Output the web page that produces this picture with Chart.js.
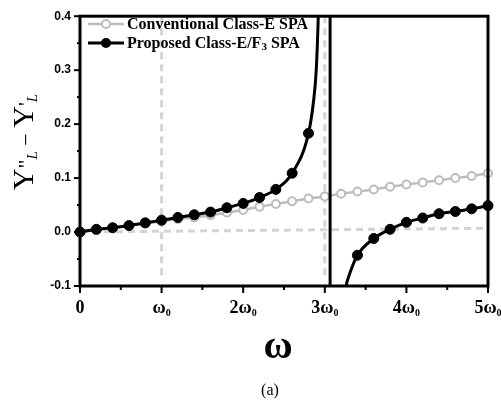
<!DOCTYPE html>
<html>
<head>
<meta charset="utf-8">
<script src="https://cdn.jsdelivr.net/npm/chart.js@4.4.1/dist/chart.umd.min.js"></script>
<style>
  html, body { margin: 0; padding: 0; background: #fff; }
  #wrap { position: absolute; left: 0; top: 0; width: 501px; height: 402px; }
</style>
</head>
<body>
<div id="wrap"><canvas id="chart" width="501" height="402"></canvas></div>
<script>
// Y''_L - Y'_L against frequency, in units of omega_0

// conventional class-E, one marker every 0.2 omega_0
const conventionalOmega = [0, 0.2, 0.4, 0.6, 0.8, 1.0, 1.2, 1.4, 1.6, 1.8, 2.0, 2.2, 2.4,
  2.6, 2.8, 3.0, 3.2, 3.4, 3.6, 3.8, 4.0, 4.2, 4.4, 4.6, 4.8, 5.0];
const conventionalValue = [0, 0.004, 0.008, 0.012, 0.016, 0.020, 0.024, 0.027, 0.031, 0.036,
  0.041, 0.047, 0.052, 0.057, 0.062, 0.066, 0.071, 0.075, 0.079, 0.084, 0.088, 0.092, 0.096,
  0.100, 0.104, 0.109];

// proposed class-E/F3, branch below the resonance
const proposedLowOmega = [0, 0.2, 0.4, 0.6, 0.8, 1.0, 1.2, 1.4, 1.6, 1.8, 2.0, 2.2, 2.4, 2.6, 2.8];
const proposedLowValue = [0, 0.005, 0.008, 0.012, 0.017, 0.022, 0.027, 0.032, 0.037, 0.045,
  0.053, 0.064, 0.079, 0.109, 0.183];
// unmarked curve points where it runs off the top
const proposedRiseOmega = [2.86, 2.895, 2.92, 2.935];
const proposedRiseValue = [0.24, 0.30, 0.40, 0.50];

// jump across the pole
const poleOmega = [3.065, 3.065];
const poleValue = [0.5, -0.2];

// branch above the resonance
const proposedFallOmega = [3.16, 3.21, 3.26, 3.31];
const proposedFallValue = [-0.24, -0.15, -0.10, -0.075];
const proposedHighOmega = [3.4, 3.6, 3.8, 4.0, 4.2, 4.4, 4.6, 4.8, 5.0];
const proposedHighValue = [-0.043, -0.012, 0.005, 0.018, 0.026, 0.034, 0.038, 0.043, 0.049];

// dashed guides
const guideW0 = [[1, 0.4], [1, -0.085]];
const guide3W0 = [[3, 0.4], [3, -0.085]];
const guideZero = [[0, 0], [5, 0.007]];

// axes
const yTicks = [-0.1, 0, 0.1, 0.2, 0.3, 0.4];
const yMinorTicks = [-0.05, 0.05, 0.15, 0.25, 0.35];
const xTicks = [0, 1, 2, 3, 4, 5];
const xMinorTicks = [0.5, 1.5, 2.5, 3.5, 4.5];
const xTickLabels = ['0', 'ω', '2ω', '3ω', '4ω', '5ω'];

const SERIF = '"Liberation Serif", "Times New Roman", serif';
const SANS = '"Liberation Sans", Arial, sans-serif';
const GREY = '#bdbdbd';
const GUIDE = '#d4d4d4';

const pts = (xs, ys, marked) => xs.map((v, i) => ({ x: v, y: ys[i], m: marked }));

const proposedLow = pts(proposedLowOmega, proposedLowValue, true)
  .concat(pts(proposedRiseOmega, proposedRiseValue, false));
const proposedHigh = pts(proposedFallOmega, proposedFallValue, false)
  .concat(pts(proposedHighOmega, proposedHighValue, true));

const markerRadius = r => ctx => (ctx.raw && ctx.raw.m ? r : 0);
const sideClip = { left: 7, right: 7, top: 0, bottom: 0 };

function blackBranch(data) {
  return {
    data,
    borderColor: '#000',
    borderWidth: 3,
    pointBackgroundColor: '#000',
    pointBorderColor: '#000',
    pointRadius: markerRadius(5),
    pointBorderWidth: 1,
    cubicInterpolationMode: 'monotone',
    clip: sideClip,
    order: 0
  };
}

function guide(data) {
  return {
    data: data.map(p => ({ x: p[0], y: p[1] })),
    borderColor: GUIDE,
    borderWidth: 3,
    borderDash: [7, 5],
    pointRadius: 0,
    clip: 0,
    order: 5
  };
}

// text made of pieces, some of them lowered as subscripts
function drawPieces(ctx, pieces, x, y) {
  let cx = x;
  pieces.forEach(p => {
    ctx.font = p.font;
    ctx.fillText(p.t, cx, y + (p.dy || 0));
    cx += ctx.measureText(p.t).width;
  });
  return cx - x;
}

function piecesWidth(ctx, pieces) {
  return pieces.reduce((w, p) => { ctx.font = p.font; return w + ctx.measureText(p.t).width; }, 0);
}

const decor = {
  id: 'decor',
  afterDatasetsDraw(chart) {
    const { ctx, chartArea: a, scales: { x, y } } = chart;
    ctx.save();
    ctx.strokeStyle = '#000';
    ctx.fillStyle = '#000';

    const seg = (x1, y1, x2, y2) => { ctx.beginPath(); ctx.moveTo(x1, y1); ctx.lineTo(x2, y2); ctx.stroke(); };

    // tick marks, outward
    ctx.lineWidth = 2;
    xTicks.forEach(v => { const p = x.getPixelForValue(v); seg(p, a.bottom, p, a.bottom + 7); });
    xMinorTicks.forEach(v => { const p = x.getPixelForValue(v); seg(p, a.bottom, p, a.bottom + 4); });
    yTicks.forEach(v => { const p = y.getPixelForValue(v); seg(a.left, p, a.left - 6, p); });
    yMinorTicks.forEach(v => { const p = y.getPixelForValue(v); seg(a.left, p, a.left - 3, p); });

    // frame
    ctx.lineWidth = 3;
    ctx.strokeRect(a.left, a.top, a.right - a.left, a.bottom - a.top);

    // x tick labels with subscript 0
    ctx.textBaseline = 'alphabetic';
    ctx.textAlign = 'left';
    xTicks.forEach((v, i) => {
      const pieces = [{ t: xTickLabels[i], font: 'bold 18px ' + SERIF }];
      if (i > 0) pieces.push({ t: '0', font: 'bold 10px ' + SERIF, dy: 3 });
      const w = piecesWidth(ctx, pieces);
      drawPieces(ctx, pieces, x.getPixelForValue(v) - w / 2, a.bottom + 27);
    });

    // axis titles
    ctx.textAlign = 'center';
    ctx.font = 'bold 40px ' + SERIF;
    ctx.fillText('ω', 278, 358);
    ctx.font = '16px ' + SERIF;
    ctx.fillText('(a)', 270, 395);

    ctx.textAlign = 'left';
    const yTitle = [
      { t: 'Y', font: '30px ' + SERIF },
      { t: '"', font: '22px ' + SERIF },
      { t: 'L', font: 'italic 15px ' + SERIF, dy: 4 },
      { t: ' − ', font: '22px ' + SERIF },
      { t: 'Y', font: '30px ' + SERIF },
      { t: "'", font: '22px ' + SERIF },
      { t: 'L', font: 'italic 15px ' + SERIF, dy: 4 }
    ];
    const tw = piecesWidth(ctx, yTitle);
    ctx.save();
    ctx.translate(33, 142 + tw / 2);
    ctx.rotate(-Math.PI / 2);
    drawPieces(ctx, yTitle, 0, 0);
    ctx.restore();

    // legend
    const lx = 88, lw = 36;
    ctx.lineWidth = 2.5;
    ctx.strokeStyle = GREY;
    seg(lx, 24, lx + lw, 24);
    ctx.beginPath();
    ctx.arc(lx + lw / 2, 24, 4, 0, Math.PI * 2);
    ctx.fillStyle = '#fff';
    ctx.fill();
    ctx.lineWidth = 2;
    ctx.stroke();

    ctx.strokeStyle = '#000';
    ctx.lineWidth = 3;
    seg(lx, 43, lx + lw, 43);
    ctx.beginPath();
    ctx.arc(lx + lw / 2, 43, 5, 0, Math.PI * 2);
    ctx.fillStyle = '#000';
    ctx.fill();

    ctx.textBaseline = 'middle';
    drawPieces(ctx, [{ t: 'Conventional Class-E SPA', font: 'bold 16px ' + SERIF }], lx + lw + 3, 25);
    drawPieces(ctx, [
      { t: 'Proposed Class-E/F', font: 'bold 16px ' + SERIF },
      { t: '3', font: 'bold 11px ' + SERIF, dy: 3 },
      { t: ' SPA', font: 'bold 16px ' + SERIF }
    ], lx + lw + 3, 44);

    ctx.restore();
  }
};

new Chart(document.getElementById('chart'), {
  type: 'line',
  data: {
    datasets: [
      blackBranch(proposedLow),
      blackBranch(proposedHigh),
      {
        data: pts(poleOmega, poleValue, false),
        borderColor: '#000',
        borderWidth: 3,
        pointRadius: 0,
        clip: 0,
        order: 0
      },
      {
        data: pts(conventionalOmega, conventionalValue, true),
        borderColor: GREY,
        borderWidth: 2.5,
        pointBackgroundColor: '#fff',
        pointBorderColor: GREY,
        pointBorderWidth: 2,
        pointRadius: 4,
        cubicInterpolationMode: 'monotone',
        clip: sideClip,
        order: 1
      },
      guide(guideW0),
      guide(guide3W0),
      guide(guideZero)
    ]
  },
  options: {
    responsive: false,
    animation: false,
    devicePixelRatio: 1,
    layout: { padding: { top: 14, right: 13, bottom: 116, left: 0 } },
    plugins: { legend: { display: false }, tooltip: { enabled: false } },
    scales: {
      x: {
        type: 'linear',
        min: 0,
        max: 5,
        ticks: { display: false },
        grid: { display: false, drawTicks: false },
        border: { display: false }
      },
      y: {
        type: 'linear',
        min: -0.1,
        max: 0.4,
        afterFit: s => { s.width = 80; },
        ticks: {
          stepSize: 0.1,
          padding: 9,
          color: '#000',
          font: { family: SANS, size: 12, weight: 'bold' },
          callback: v => v.toFixed(1)
        },
        grid: { display: false, drawTicks: false },
        border: { display: false }
      }
    }
  },
  plugins: [decor]
});
</script>
</body>
</html>
